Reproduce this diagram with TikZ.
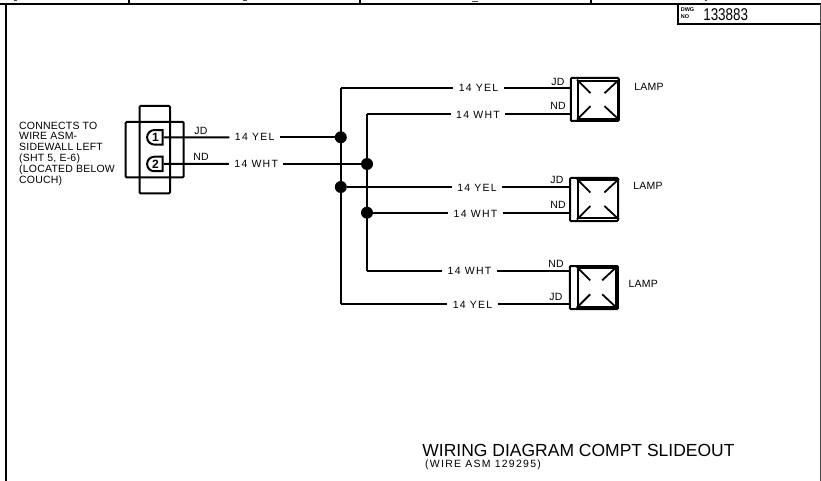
\documentclass[tikz,border=0pt]{standalone}
\usetikzlibrary{shapes.misc}
\usepackage{fontspec}
\setmainfont{Liberation Sans}
\newfontfamily\spaced[LetterSpace=2]{Liberation Sans}
\newfontfamily\widespaced[LetterSpace=12]{Liberation Sans}
\newcommand{\labelfont}{\fontsize{10.5}{10.8}\selectfont\spaced}
\newcommand{\widelabelfont}{\fontsize{10.5}{10.8}\selectfont\widespaced}
\begin{document}
\begin{tikzpicture}[x=1pt,y=-1pt,
  frameline/.style={line width=2pt,black},
  wire/.style={line width=2pt,black,line join=round},
  boxline/.style={line width=2pt,black,rounded corners=1pt},
  dotj/.style={circle,fill=black,inner sep=0pt,minimum size=12pt},
  wlabel/.style={inner sep=0pt,font=\labelfont,text=black},
  wirelabel/.style={inner sep=0pt,outer xsep=5.5pt,font=\widelabelfont,text=black,anchor=center},
  lampbox/.style={boxline,minimum width=48pt,minimum height=43pt,draw,inner sep=0pt},
  lampin/.style={line width=2pt,draw,inner sep=0pt,minimum width=40pt,minimum height=38pt},
  tick/.style={line width=1.8pt,black},
  pinbox/.style={rounded rectangle,rounded rectangle east arc=none,draw,line width=2pt,inner sep=0pt,minimum width=15.5pt,minimum height=14.5pt,font=\fontsize{12}{12}\selectfont\bfseries},
  topmark/.style={line width=1.2pt,black!70}]
\useasboundingbox (0,0) rectangle (821,481);
% frame
\coordinate (tl) at (0,4); \coordinate (tr) at (821,4);
\coordinate (fl) at (5.7,4); \coordinate (fb) at (5.7,481);
\coordinate (rt) at (820.3,4); \coordinate (rb) at (820.3,481);
\draw[frameline] (tl) -- (tr);
\draw[frameline] (fl) -- (fb);
\draw[line width=1pt,black!70] (rt) -- (rb);
\foreach \n/\xx in {a/129.3,b/360,c/590.5}{
  \coordinate (tk\n1) at (\xx,0); \coordinate (tk\n2) at (\xx,4);
  \draw[frameline] (tk\n1) -- (tk\n2);
}
\foreach \n/\xa/\xb/\yy in {a/14/16.5/0.4,b/243/246.5/0.6,c/472/478/1.4,d/704.5/706.5/0.4}{
  \coordinate (mk\n1) at (\xa,\yy); \coordinate (mk\n2) at (\xb,\yy);
  \draw[topmark] (mk\n1) -- (mk\n2);
}
% title block
\coordinate (d1) at (678.3,4); \coordinate (d2) at (678.3,24); \coordinate (d3) at (821,24);
\draw[frameline] (d1) -- (d2) -- (d3);
\node[inner sep=0pt,align=left,font=\fontsize{5.5}{7}\selectfont\bfseries] (dwg) at (687.5,12.7) {DWG\\NO};
\node[inner sep=0pt,xscale=0.79,transform shape,font=\fontsize{17}{17}\selectfont] (num) at (725.7,14.3) {133883};
% connector
\coordinate (ba) at (139.5,106); \coordinate (bb) at (170,193.3);
\coordinate (bc) at (125.7,122); \coordinate (bd) at (183.7,177.3);
\draw[boxline] (ba) rectangle (bb);
\draw[boxline] (bc) rectangle (bd);
\node[wlabel,anchor=north west,align=left] (conn) at (19,121.6) {CONNECTS TO\\WIRE ASM-\\SIDEWALL LEFT\\(SHT 5, E-6)\\(LOCATED BELOW\\COUCH)};
% pins
\node[pinbox] (p1) at (155.5,137.3) {1};
\node[pinbox] (p2) at (155.5,164) {2};
% junctions
\coordinate (c1) at (340.8,88.3); \coordinate (c2) at (367,114);
\coordinate (c3) at (340.8,303.7); \coordinate (c4) at (367,271);
\draw[wire] (c1) -- (c3);
\draw[wire] (c2) -- (c4);
\node[dotj] (j1) at (340.8,137.3) {};
\node[dotj] (j2) at (367,164) {};
\node[dotj] (j3) at (340.8,187) {};
\node[dotj] (j4) at (367,212.7) {};
% lamps
\node[lampbox] (l1) at (594.8,99.5) {};
\node[lampbox] (l2) at (594,199.5) {};
\node[lampbox] (l3) at (593.9,287.5) {};
\foreach \n/\cx/\cy/\ww/\hh in {l1/598/99.7/40/38,l2/597.9/199.2/40/38.5,l3/596.7/287.3/38/39}{
  \node[lampin,minimum width=\ww pt,minimum height=\hh pt] (\n i) at (\cx,\cy) {};
  \draw[tick] (\n i.north west) -- ++(13.5,13.5);
  \draw[tick] (\n i.north east) -- ++(-14.5,13.5);
  \draw[tick] (\n i.south west) -- ++(13.5,-13.5);
  \draw[tick] (\n i.south east) -- ++(-14.5,-13.5);
}
\node[wlabel] (t1) at (649,87) {LAMP};
\node[wlabel] (t2) at (648,186) {LAMP};
\node[wlabel] (t3) at (643.3,284) {LAMP};
% wire labels
\node[wirelabel] (w1) at (254.7,137.3) {14 YEL};
\node[wirelabel] (w2) at (256.2,164) {14 WHT};
\node[wirelabel] (w3) at (478.5,88.3) {14 YEL};
\node[wirelabel] (w4) at (478,115) {14 WHT};
\node[wirelabel] (w5) at (477,188) {14 YEL};
\node[wirelabel] (w6) at (475.5,214) {14 WHT};
\node[wirelabel] (w7) at (469.5,271) {14 WHT};
\node[wirelabel] (w8) at (472.5,305) {14 YEL};
% wires
\draw[wire] (p1) -- (w1);
\draw[wire] (w1) -- (j1);
\draw[wire] (p2) -- (w2);
\draw[wire] (w2) -- (j2);
\draw[wire] (c1) -- (c1 -| w3.west);
\draw[wire] (c1 -| w3.east) -- (c1 -| l1.west);
\draw[wire] (c2) -- (c2 -| w4.west);
\draw[wire] (c2 -| w4.east) -- (c2 -| l1.west);
\draw[wire] (j3) -- (j3 -| w5.west);
\draw[wire] (j3 -| w5.east) -- (j3 -| l2.west);
\draw[wire] (j4) -- (j4 -| w6.west);
\draw[wire] (j4 -| w6.east) -- (j4 -| l2.west);
\draw[wire] (c4) -- (c4 -| w7.west);
\draw[wire] (c4 -| w7.east) -- (c4 -| l3.west);
\draw[wire] (c3) -- (c3 -| w8.west);
\draw[wire] (c3 -| w8.east) -- (c3 -| l3.west);
% pin labels
\node[wlabel] (jd0) at (201,131) {JD};
\node[wlabel] (nd0) at (201,157) {ND};
\node[wlabel] (jd1) at (558,81.7) {JD};
\node[wlabel] (nd1) at (558,106) {ND};
\node[wlabel] (jd2) at (557,180) {JD};
\node[wlabel] (nd2) at (558,205) {ND};
\node[wlabel] (nd3) at (556,264) {ND};
\node[wlabel] (jd3) at (556,296.7) {JD};
% captions
\node[inner sep=0pt,font=\fontsize{17.5}{17.5}\selectfont] (cap) at (578.5,450) {WIRING DIAGRAM COMPT SLIDEOUT};
\node[inner sep=0pt,anchor=west,font=\widelabelfont] (sub) at (425,465) {(WIRE ASM 129295)};
\end{tikzpicture}
\end{document}
